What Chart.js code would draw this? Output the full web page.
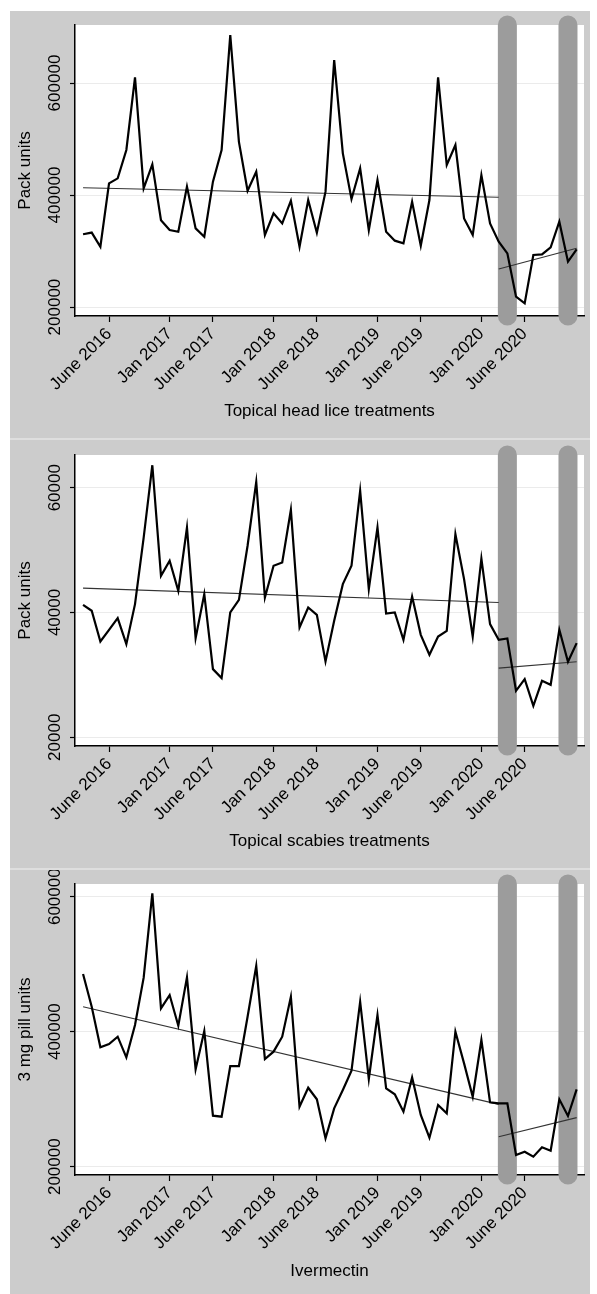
<!DOCTYPE html>
<html>
<head>
<meta charset="utf-8">
<script src="https://cdn.jsdelivr.net/npm/chart.js@4.4.1/dist/chart.umd.min.js"></script>
<style>
  html, body { margin: 0; padding: 0; background: #ffffff; }
  body { width: 597px; height: 1294px; position: relative; overflow: hidden; }
  #wrap { position: absolute; left: 10px; top: 11px; width: 580px; height: 1283px; background: #dedede; }
  .panel { position: absolute; left: 0; width: 580px; background: #cccccc; }
  canvas { display: block; }
</style>
</head>
<body>
<div id="wrap">
  <div class="panel" style="top:0px;height:427px"><canvas id="c1" width="580" height="427"></canvas></div>
  <div class="panel" style="top:429px;height:428px"><canvas id="c2" width="580" height="428"></canvas></div>
  <div class="panel" style="top:859px;height:424px"><canvas id="c3" width="580" height="424"></canvas></div>
</div>
<script>
// Months: index 0 = Mar 2016 ... index 57 = Dec 2020
const xTickPos = [3, 10, 15, 22, 27, 34, 39, 46, 51];
const xTickLabels = ["June 2016", "Jan 2017", "June 2017", "Jan 2018", "June 2018", "Jan 2019", "June 2019", "Jan 2020", "June 2020"];
const bandPositions = [49, 56];

const headLice = [330000,333000,307700,420800,429800,480400,610000,412000,454800,355000,337500,334500,415000,340500,325600,423800,480400,685700,495000,407700,441700,328600,367300,349400,389900,307700,391000,332700,406000,641000,474400,392900,447600,337500,426800,334500,318500,313700,388100,309500,391000,610000,453600,489300,358300,328600,435700,349400,316700,295800,218500,206600,292900,294100,306600,352400,281000,303000];
const headLiceTrendPre = [413000, 396000];
const headLiceTrendPost = [268000, 305000];
const headLiceYTicks = [200000, 400000, 600000];

const scabies = [41230,40270,35350,37220,39090,34930,41340,52000,63600,45870,48280,43470,53620,35890,42940,30920,29480,40000,42030,50700,60930,42400,47480,48010,56450,37600,40800,39630,32150,38660,44540,47480,59490,43740,53620,39840,40000,35620,42560,36420,33220,36150,37060,52550,45340,36150,48650,38130,35620,35830,27450,29320,25050,29050,28410,37220,32100,35090];
const scabiesTrendPre = [43900, 41600];
const scabiesTrendPost = [31080, 32100];
const scabiesYTicks = [20000, 40000, 60000];

const ivermectin = [485400,437000,376800,381700,392600,362000,409900,480000,604900,434600,454300,408900,480500,344200,401000,275600,274100,349100,349100,422200,497300,359500,370400,392600,451800,288900,317000,299800,242000,286400,313600,342200,444400,329900,424700,316100,307200,281500,332300,276600,243000,291400,279000,400000,353100,303700,387700,295300,293800,293800,217300,222200,214800,228700,223700,299800,275100,314600];
const ivermectinTrendPre = [437000, 292400];
const ivermectinTrendPost = [244400, 272600];
const ivermectinYTicks = [200000, 400000, 600000];

const trendPreX = [0, 48];
const trendPostX = [48, 57];

const FONT = "'Liberation Sans', Arial, Helvetica, sans-serif";

const plotBg = {
  id: 'plotBg',
  beforeDraw(chart) {
    const {ctx, chartArea: a} = chart;
    ctx.save();
    ctx.fillStyle = '#ffffff';
    ctx.fillRect(a.left, a.top, a.right - a.left, a.bottom - a.top);
    ctx.restore();
  }
};

const yLabels = {
  id: 'yLabels',
  afterDraw(chart) {
    const s = chart.scales.y;
    const ctx = chart.ctx;
    ctx.save();
    ctx.fillStyle = '#000';
    ctx.font = '17px ' + FONT;
    ctx.textAlign = 'center';
    ctx.textBaseline = 'middle';
    s.ticks.forEach(t => {
      const y = s.getPixelForValue(t.value);
      ctx.save();
      ctx.translate(45, y);
      ctx.rotate(-Math.PI / 2);
      ctx.fillText(String(t.value), 0, 0);
      ctx.restore();
    });
    ctx.restore();
  }
};

function makePanel(id, p) {
  const series = p.values.map((v, i) => ({x: i, y: v}));
  const datasets = [
    {data: series, borderColor: '#000', borderWidth: 2.2, pointRadius: 0, order: 0, borderJoinStyle: 'miter'},
    {data: trendPreX.map((x, i) => ({x, y: p.pre[i]})), borderColor: '#333', borderWidth: 1.2, pointRadius: 0, order: 1},
    {data: trendPostX.map((x, i) => ({x, y: p.post[i]})), borderColor: '#333', borderWidth: 1.2, pointRadius: 0, order: 1}
  ];
  bandPositions.forEach(b => {
    datasets.push({
      data: [{x: b, y: p.yMax}, {x: b, y: p.yMin}],
      borderColor: '#9c9c9c', borderWidth: 19, borderCapStyle: 'round',
      pointRadius: 0, clip: false, order: 10
    });
  });
  new Chart(document.getElementById(id), {
    type: 'line',
    data: {datasets},
    options: {
      responsive: false, animation: false, devicePixelRatio: 1,
      layout: {padding: {top: p.padTop, right: 6, left: 0, bottom: 0}},
      plugins: {legend: {display: false}, tooltip: {enabled: false}},
      scales: {
        x: {
          type: 'linear', min: -0.93, max: 57.85,
          afterBuildTicks(s) { s.ticks = xTickPos.map(v => ({value: v})); },
          afterFit(s) { s.height = p.xHeight; },
          ticks: {autoSkip: false, minRotation: 45, maxRotation: 45, padding: 2, color: '#000',
                  font: {family: FONT, size: 17}, callback: (v, i) => xTickLabels[i]},
          grid: {display: true, drawOnChartArea: false, drawTicks: true, tickLength: 6, tickColor: '#000', tickWidth: 1.2},
          border: {display: true, color: '#000', width: 1.5},
          title: {display: true, text: p.xTitle, color: '#000', font: {family: FONT, size: 17}, padding: {top: 0, bottom: p.titlePad}}
        },
        y: {
          type: 'linear', min: p.yMin, max: p.yMax,
          afterBuildTicks(s) { s.ticks = p.yTicks.map(v => ({value: v})); },
          afterFit(s) { s.width = 65; },
          ticks: {display: false},
          grid: {color: '#ebebeb', lineWidth: 1, drawTicks: true, tickLength: 5, tickColor: '#000', tickWidth: 1.2},
          border: {display: true, color: '#000', width: 1.5},
          title: {display: true, text: p.yTitle, color: '#000', font: {family: FONT, size: 17}, padding: {top: 5, bottom: 0}}
        }
      }
    },
    plugins: [plotBg, yLabels]
  });
}

makePanel('c1', {values: headLice, pre: headLiceTrendPre, post: headLiceTrendPost, yTicks: headLiceYTicks,
  yMin: 184000, yMax: 703600, padTop: 14, xHeight: 122, titlePad: 16,
  xTitle: 'Topical head lice treatments', yTitle: 'Pack units'});
makePanel('c2', {values: scabies, pre: scabiesTrendPre, post: scabiesTrendPost, yTicks: scabiesYTicks,
  yMin: 18600, yMax: 65240, padTop: 15, xHeight: 122, titlePad: 16,
  xTitle: 'Topical scabies treatments', yTitle: 'Pack units'});
makePanel('c3', {values: ivermectin, pre: ivermectinTrendPre, post: ivermectinTrendPost, yTicks: ivermectinYTicks,
  yMin: 187700, yMax: 618800, padTop: 14, xHeight: 119, titlePad: 12,
  xTitle: 'Ivermectin', yTitle: '3 mg pill units'});
</script>
</body>
</html>
